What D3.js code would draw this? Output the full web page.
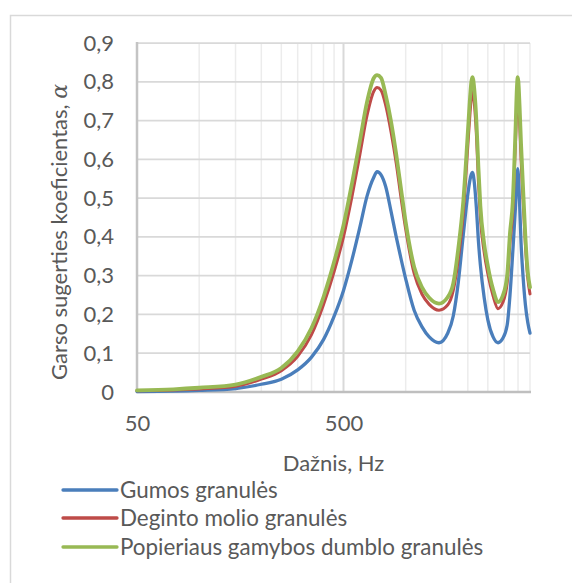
<!DOCTYPE html>
<html>
<head>
<meta charset="utf-8">
<script src="https://cdn.jsdelivr.net/npm/d3@7"></script>
<style>
  html, body { margin: 0; padding: 0; background: #ffffff; }
  svg { display: block; font-family: Lato, "Open Sans", sans-serif; }
</style>
</head>
<body>
<svg id="chart" width="572" height="583"></svg>
<script>
// ---------- data ----------
const freq = [50, 75, 100, 150, 200, 250, 300, 350, 400, 450, 500, 550, 600, 650, 700, 727, 760, 800, 850, 900, 950, 1000, 1100, 1200, 1300, 1450, 1600, 1700, 1800, 1900, 2000, 2050, 2080, 2103, 2125, 2150, 2200, 2250, 2300, 2400, 2500, 2650, 2800, 2950, 3100, 3200, 3300, 3400, 3460, 3487, 3515, 3560, 3620, 3700, 3800, 3900, 4000];

const gumos = [0.001, 0.002, 0.004, 0.009, 0.020, 0.033, 0.057, 0.090, 0.135, 0.195, 0.262, 0.342, 0.425, 0.505, 0.553, 0.568, 0.560, 0.530, 0.465, 0.400, 0.343, 0.292, 0.210, 0.168, 0.142, 0.127, 0.152, 0.196, 0.285, 0.405, 0.510, 0.548, 0.562, 0.566, 0.560, 0.540, 0.475, 0.390, 0.328, 0.243, 0.186, 0.142, 0.127, 0.138, 0.172, 0.250, 0.360, 0.475, 0.555, 0.576, 0.560, 0.490, 0.385, 0.300, 0.225, 0.180, 0.152];

const molio = [0.003, 0.005, 0.008, 0.015, 0.033, 0.055, 0.092, 0.148, 0.225, 0.310, 0.400, 0.505, 0.612, 0.713, 0.775, 0.785, 0.778, 0.740, 0.670, 0.590, 0.500, 0.420, 0.305, 0.252, 0.226, 0.211, 0.225, 0.262, 0.345, 0.460, 0.635, 0.720, 0.760, 0.780, 0.770, 0.745, 0.665, 0.545, 0.450, 0.360, 0.305, 0.248, 0.215, 0.230, 0.280, 0.385, 0.465, 0.640, 0.740, 0.760, 0.750, 0.700, 0.600, 0.500, 0.380, 0.295, 0.253];

const dumblo = [0.004, 0.007, 0.011, 0.019, 0.039, 0.062, 0.105, 0.165, 0.245, 0.335, 0.430, 0.539, 0.647, 0.748, 0.809, 0.817, 0.810, 0.766, 0.697, 0.613, 0.523, 0.438, 0.322, 0.270, 0.243, 0.228, 0.245, 0.280, 0.372, 0.490, 0.670, 0.760, 0.800, 0.812, 0.805, 0.780, 0.700, 0.580, 0.480, 0.382, 0.325, 0.265, 0.232, 0.248, 0.300, 0.410, 0.490, 0.670, 0.790, 0.812, 0.800, 0.740, 0.640, 0.530, 0.400, 0.310, 0.270];

const seriesNames = ["Gumos granulės", "Deginto molio granulės", "Popieriaus gamybos dumblo granulės"];
const seriesColors = ["#4a7ebb", "#be4b48", "#98b954"];

const yTicks = [0, 0.1, 0.2, 0.3, 0.4, 0.5, 0.6, 0.7, 0.8, 0.9];
const yTickLabels = ["0", "0,1", "0,2", "0,3", "0,4", "0,5", "0,6", "0,7", "0,8", "0,9"];
const xMajorTicks = [50, 500];
const xTickLabels = ["50", "500"];
const xMinorTicks = [100, 150, 200, 250, 300, 350, 400, 450, 1000, 1500, 2000, 2500, 3000, 3500, 4000];

const xTitle = "Dažnis, Hz";
const yTitle = "Garso sugerties koeficientas, ";

// ---------- layout ----------
const svg = d3.select("#chart");
const L = 137, R = 530, T = 43, B = 392;
const x = d3.scaleLog().domain([50, 4000]).range([L, R]);
const y = d3.scaleLinear().domain([0, 0.9]).range([B, T]);
const textColor = "#595959";
const fs = 22;

// outer chart border
svg.append("rect").attr("x", 10.5).attr("y", 15.5).attr("width", 600).attr("height", 600)
  .attr("fill", "none").attr("stroke", "#d9d9d9").attr("stroke-width", 1.5);

// minor vertical gridlines
svg.append("g").selectAll("line").data(xMinorTicks).join("line")
  .attr("x1", d => x(d)).attr("x2", d => x(d)).attr("y1", T).attr("y2", B)
  .attr("stroke", "#ececec").attr("stroke-width", 1.5);

// horizontal gridlines
svg.append("g").selectAll("line").data(yTicks.filter(d => d > 0)).join("line")
  .attr("x1", L).attr("x2", R).attr("y1", d => y(d)).attr("y2", d => y(d))
  .attr("stroke", "#d9d9d9").attr("stroke-width", 1.75);

// major vertical gridlines
svg.append("g").selectAll("line").data(xMajorTicks.slice(1)).join("line")
  .attr("x1", d => x(d)).attr("x2", d => x(d)).attr("y1", T).attr("y2", B)
  .attr("stroke", "#d9d9d9").attr("stroke-width", 2);

// axis lines
svg.append("line").attr("x1", L).attr("x2", L).attr("y1", T - 1).attr("y2", B)
  .attr("stroke", "#c4c4c4").attr("stroke-width", 2.5);
svg.append("line").attr("x1", L - 1).attr("x2", R + 1).attr("y1", B).attr("y2", B)
  .attr("stroke", "#bfbfbf").attr("stroke-width", 2.5);

// y axis labels
const yAxis = d3.axisLeft(y).tickValues(yTicks).tickSize(0).tickPadding(23)
  .tickFormat((d, i) => yTickLabels[i]);
const gy = svg.append("g").attr("transform", `translate(${L},0)`).call(yAxis);
gy.select(".domain").remove();
gy.selectAll("text").attr("fill", textColor).attr("font-size", fs).attr("font-family", "Lato");

// x axis labels
const xAxis = d3.axisBottom(x).tickValues(xMajorTicks).tickSize(0).tickPadding(23)
  .tickFormat((d, i) => xTickLabels[i]);
const gx = svg.append("g").attr("transform", `translate(0,${B})`).call(xAxis);
gx.select(".domain").remove();
gx.selectAll("text").attr("fill", textColor).attr("font-size", fs).attr("font-family", "Lato");

// axis titles
svg.append("text").attr("x", (L + R) / 2).attr("y", 471).attr("text-anchor", "middle")
  .attr("fill", textColor).attr("font-size", fs).text(xTitle);
const yt = svg.append("text").attr("transform", `translate(67,232) rotate(-90)`)
  .attr("text-anchor", "middle").attr("fill", textColor).attr("font-size", fs);
yt.append("tspan").text(yTitle);
yt.append("tspan").attr("font-style", "italic").attr("font-family", "DejaVu Serif").text("α");

// series lines
const seriesValues = [gumos, molio, dumblo];
const widths = [3.3, 3, 3.8];
const line = d3.line().x(d => x(d[0])).y(d => y(d[1])).curve(d3.curveMonotoneX);
seriesValues.forEach((vals, i) => {
  svg.append("path").datum(freq.map((f, j) => [f, vals[j]]))
    .attr("d", line).attr("fill", "none").attr("stroke", seriesColors[i])
    .attr("stroke-width", widths[i]).attr("stroke-linejoin", "round").attr("stroke-linecap", "round");
});

// legend
const legendY = [490, 518, 547];
const lg = svg.append("g");
seriesNames.forEach((name, i) => {
  lg.append("line").attr("x1", 63).attr("x2", 117).attr("y1", legendY[i]).attr("y2", legendY[i])
    .attr("stroke", seriesColors[i]).attr("stroke-width", 3.3).attr("stroke-linecap", "round");
  lg.append("text").attr("x", 120).attr("y", legendY[i]).attr("dy", "0.35em")
    .attr("fill", textColor).attr("font-size", 22.4).text(name);
});
</script>
</body>
</html>
